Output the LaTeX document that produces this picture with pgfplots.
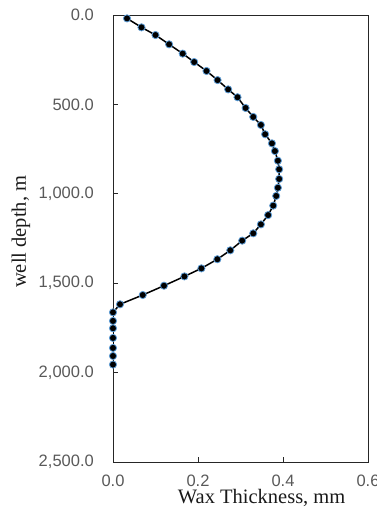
\documentclass[border=0pt]{standalone}
\usepackage{pgfplots}
\pgfplotsset{compat=1.18}
\usepackage{fontspec}
\setmainfont{Liberation Serif}
\newfontfamily\tickfont{Liberation Sans}
\definecolor{tickgray}{RGB}{89,89,89}
\definecolor{markedge}{RGB}{91,155,213}
\begin{document}
\begin{tikzpicture}
\useasboundingbox (0,0) rectangle (377bp,518bp);
\begin{axis}[
  at={(113bp,56bp)}, anchor=south west,
  scale only axis, width=255bp, height=447bp,
  xmin=0, xmax=0.6, ymin=0, ymax=2500,
  y dir=reverse,
  xtick={0,0.2,0.4,0.6}, xticklabels={0.0,0.2,0.4,0.6},
  ytick={0,500,1000,1500,2000,2500},
  yticklabels={0.0,500.0,{1,000.0},{1,500.0},{2,000.0},{2,500.0}},
  tick align=inside, major tick length=5bp,
  xtick pos=left, ytick pos=left,
  axis line style={black!85, line width=0.9bp},
  tick style={black!85, line width=0.9bp},
  ticklabel style={font=\tickfont\fontsize{16.5bp}{19bp}\selectfont, text=tickgray, inner sep=0pt},
  xticklabel style={anchor=north, yshift=-13bp},
  yticklabel style={anchor=east, xshift=-19bp},
  xlabel={Wax Thickness, mm},
  ylabel={well depth, m},
  label style={font=\fontsize{20.5bp}{23bp}\selectfont, text=black!90},
  xlabel style={at={(axis description cs:0.583,-0.0935)}, anchor=base},
  ylabel style={at={(axis description cs:-0.361,0.515)}, anchor=center},
]
\addplot[black, line width=1.5bp, mark=*, mark size=3.6bp,
  mark options={fill=black, draw=markedge, line width=0.8bp}]
coordinates {
(0.033,19) (0.067,69) (0.100,112) (0.132,164) (0.164,216) (0.191,263)
(0.220,313) (0.246,364) (0.271,416) (0.293,460) (0.312,520) (0.330,570)
(0.348,615) (0.358,667) (0.374,718) (0.381,761) (0.388,815) (0.391,863)
(0.391,917) (0.388,966) (0.384,1012) (0.377,1066) (0.365,1119) (0.348,1171)
(0.330,1221) (0.304,1262) (0.276,1316) (0.2455,1366) (0.208,1417) (0.168,1462)
(0.120,1514) (0.070,1566) (0.0165,1618) (0,1663) (0,1711) (0,1752)
(0,1806) (0,1862) (0,1907) (0,1955)
};
\end{axis}
\end{tikzpicture}
\end{document}
